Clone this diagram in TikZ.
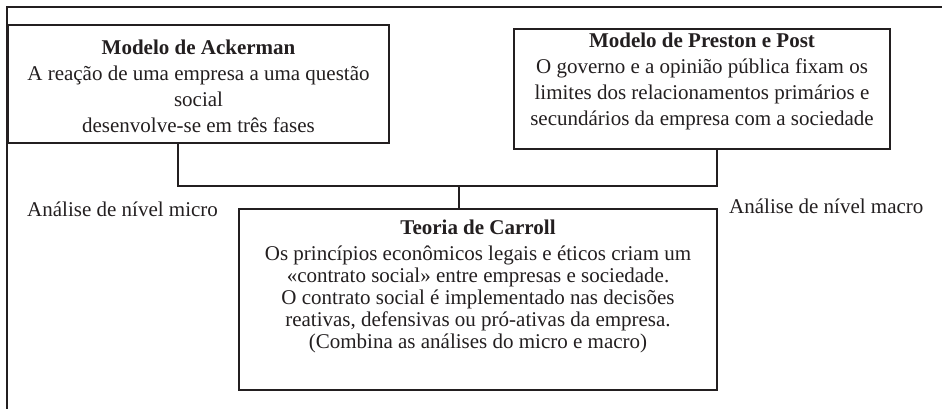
\documentclass[tikz,border=0pt]{standalone}
\usepackage{fontspec}
\setmainfont{Liberation Serif}
\definecolor{ink}{HTML}{231F20}
\begin{document}
\begin{tikzpicture}[x=1pt,y=-1pt,
  frame/.style={draw=ink,line width=2pt},
  boxx/.style={draw=ink,line width=2pt,inner sep=0pt,anchor=north west},
  wire/.style={draw=ink,line width=2pt},
  txt/.style={text=ink,align=center,inner sep=0pt,anchor=north,font=\fontsize{21}{26}\selectfont},
  lbl/.style={text=ink,inner sep=0pt,anchor=base west,font=\fontsize{21}{26}\selectfont}]
\useasboundingbox (0,0) rectangle (942,409);
\fill[white] (0,0) rectangle (942,409);
% partial outer frame
\coordinate (ftr) at (942,7);
\coordinate (ftl) at (7,7);
\coordinate (fbl) at (7,409);
\draw[frame] (ftr) -- (ftl) -- (fbl);
% boxes
\node[boxx,minimum width=381pt,minimum height=118pt] (ack) at (7,24) {};
\node[boxx,minimum width=376pt,minimum height=120pt] (pre) at (513,28) {};
\node[boxx,minimum width=478pt,minimum height=181pt] (car) at (238,208) {};
% texts
\node[txt] (ackt) at ([yshift=-16pt]ack.north) {\textbf{Modelo de Ackerman}\\A reação de uma empresa a uma questão\\social\\desenvolve-se em três fases};
\node[txt] (pret) at ([yshift=-5pt]pre.north) {\textbf{Modelo de Preston e Post}\\O governo e a opinião pública fixam os\\limites dos relacionamentos primários e\\secundários da empresa com a sociedade};
\node[txt,font=\fontsize{21}{22}\selectfont] (cart) at ([yshift=-12pt]car.north) {\textbf{Teoria de Carroll}\\[4pt]Os princípios econômicos legais e éticos criam um\\«contrato social» entre empresas e sociedade.\\O contrato social é implementado nas decisões\\reativas, defensivas ou pró-ativas da empresa.\\(Combina as análises do micro e macro)};
% labels
\node[lbl] (micro) at (27,216) {Análise de nível micro};
\node[lbl] (macro) at (729,213) {Análise de nível macro};
% connectors
\coordinate (jl) at (178,186);
\coordinate (jr) at (717,186);
\coordinate (jm) at (459,186);
\draw[wire] (ack.south -| jl) -- (jl) -- (jr) -- (pre.south -| jr);
\draw[wire] (jm) -- (car.north -| jm);
\end{tikzpicture}
\end{document}
